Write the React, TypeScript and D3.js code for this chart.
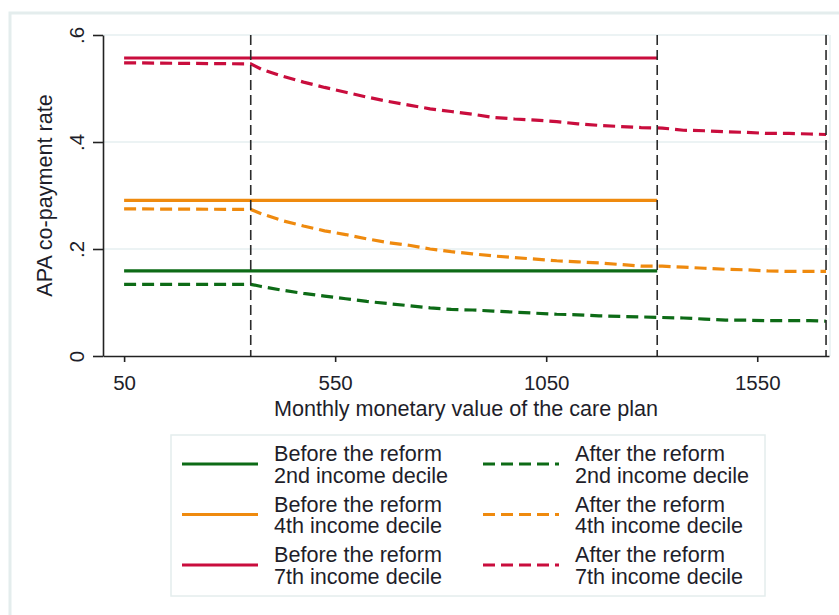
import * as d3 from "d3";
import React, { useEffect, useRef } from "react";

// monthly monetary value of the care plan (euros)
const planValues = [
  50, 350, 375, 425, 475, 525, 575, 625, 675, 725, 775, 825, 875, 925, 975,
  1025, 1075, 1125, 1175, 1225, 1275, 1325, 1375, 1425, 1475, 1525, 1575, 1625,
  1675, 1713,
];

// co-payment rate after the reform, by income decile
const after2nd = [
  0.134, 0.134, 0.13, 0.123, 0.117, 0.112, 0.107, 0.102, 0.098, 0.094, 0.09,
  0.087, 0.086, 0.084, 0.082, 0.08, 0.078, 0.077, 0.075, 0.074, 0.073, 0.072,
  0.071, 0.069, 0.067, 0.067, 0.066, 0.066, 0.066, 0.065,
];
const after4th = [
  0.275, 0.274, 0.266, 0.253, 0.243, 0.234, 0.227, 0.219, 0.212, 0.207, 0.2,
  0.195, 0.191, 0.187, 0.184, 0.181, 0.178, 0.176, 0.174, 0.171, 0.168, 0.168,
  0.166, 0.164, 0.162, 0.161, 0.159, 0.158, 0.158, 0.158,
];
const after7th = [
  0.548, 0.546, 0.536, 0.523, 0.512, 0.502, 0.493, 0.484, 0.476, 0.469, 0.462,
  0.457, 0.452, 0.446, 0.443, 0.441, 0.438, 0.434, 0.431, 0.429, 0.427, 0.426,
  0.422, 0.421, 0.419, 0.418, 0.416, 0.416, 0.415, 0.414,
];

// co-payment rate before the reform (flat up to the old ceiling)
const beforeRates = [0.159, 0.291, 0.557];
const beforeRange = [50, 1313];

const deciles = ["2nd", "4th", "7th"];
const thresholds = [350, 1313, 1713];
const xTicks = [50, 550, 1050, 1550];
const yTicks = [0, 0.2, 0.4, 0.6];
const yTickLabels = ["0", ".2", ".4", ".6"];

const COLORS = ["#0d6b16", "#ef8a0e", "#c90d3d"];
const FONT = "'Liberation Sans', Arial, sans-serif";
const W = 839;
const H = 615;

const App: React.FC = () => {
  const svgRef = useRef<SVGSVGElement>(null);

  useEffect(() => {
    document.body.style.margin = "0";
    const svg = d3.select(svgRef.current);
    svg.selectAll("*").remove();

    // graph region frame (cut off on the right and bottom)
    svg
      .append("rect")
      .attr("x", 10)
      .attr("y", 13)
      .attr("width", W)
      .attr("height", H)
      .attr("fill", "none")
      .attr("stroke", "#e4eded")
      .attr("stroke-width", 3);

    const x = d3.scaleLinear().domain([0, 1720]).range([103, 829]);
    const y = d3.scaleLinear().domain([0, 0.6]).range([356, 35]);

    // grid
    svg
      .append("g")
      .selectAll("line")
      .data(yTicks.filter((d) => d > 0))
      .join("line")
      .attr("x1", x(0))
      .attr("x2", x(1720))
      .attr("y1", (d) => y(d))
      .attr("y2", (d) => y(d))
      .attr("stroke", "#e6eff0")
      .attr("stroke-width", 1.5);
    svg
      .append("line")
      .attr("x1", x(1720) + 1)
      .attr("x2", x(1720) + 1)
      .attr("y1", y(0.6))
      .attr("y2", y(0))
      .attr("stroke", "#e6eff0")
      .attr("stroke-width", 1.5);

    const line = d3
      .line<[number, number]>()
      .x((d) => x(d[0]))
      .y((d) => y(d[1]));

    // before the reform
    beforeRates.forEach((rate, i) => {
      svg
        .append("path")
        .attr("d", line(beforeRange.map((v) => [v, rate] as [number, number])))
        .attr("fill", "none")
        .attr("stroke", COLORS[i])
        .attr("stroke-width", 3.2);
    });

    // after the reform
    [after2nd, after4th, after7th].forEach((series, i) => {
      svg
        .append("path")
        .attr("d", line(planValues.map((v, j) => [v, series[j]] as [number, number])))
        .attr("fill", "none")
        .attr("stroke", COLORS[i])
        .attr("stroke-width", 3.2)
        .attr("stroke-dasharray", "12,6");
    });

    // thresholds
    svg
      .append("g")
      .selectAll("line")
      .data(thresholds)
      .join("line")
      .attr("x1", (d) => x(d))
      .attr("x2", (d) => x(d))
      .attr("y1", y(0.6))
      .attr("y2", y(0))
      .attr("stroke", "#2b2b2b")
      .attr("stroke-width", 1.6)
      .attr("stroke-dasharray", "10,5");

    // axes
    const xAxis = svg
      .append("g")
      .attr("transform", `translate(0,${y(0)})`)
      .call(
        d3
          .axisBottom(x)
          .tickValues(xTicks)
          .tickSize(6)
          .tickSizeOuter(0)
          .tickFormat(d3.format("d"))
      )
      .attr("font-size", 20.5)
      .attr("font-family", FONT);
    xAxis.select(".domain").attr("stroke", "#222").attr("stroke-width", 1.6);
    xAxis.selectAll("line").attr("stroke", "#222").attr("stroke-width", 1.6);
    xAxis.selectAll("text").attr("y", 34).attr("dy", 0).attr("fill", "#1e1e2a");

    const yAxis = svg
      .append("g")
      .attr("transform", `translate(${x(0)},0)`)
      .call(
        d3
          .axisLeft(y)
          .tickValues(yTicks)
          .tickSize(10)
          .tickSizeOuter(0)
          .tickFormat((_, i) => yTickLabels[i])
      )
      .attr("font-size", 20.5)
      .attr("font-family", FONT);
    yAxis.select(".domain").attr("stroke", "#222").attr("stroke-width", 1.6);
    yAxis.selectAll("line").attr("stroke", "#222").attr("stroke-width", 1.6);
    yAxis
      .selectAll("text")
      .attr("transform", "rotate(-90)")
      .attr("x", 0)
      .attr("y", -19)
      .attr("dy", 0)
      .attr("text-anchor", "middle")
      .attr("fill", "#1e1e2a");

    // axis titles
    svg
      .append("text")
      .attr("x", (x(0) + x(1720)) / 2)
      .attr("y", 416)
      .attr("text-anchor", "middle")
      .attr("font-size", 21.6)
      .attr("font-family", FONT)
      .attr("fill", "#1e1e2a")
      .text("Monthly monetary value of the care plan");
    svg
      .append("text")
      .attr("transform", `translate(52,${(y(0) + y(0.6)) / 2}) rotate(-90)`)
      .attr("text-anchor", "middle")
      .attr("font-size", 21.6)
      .attr("font-family", FONT)
      .attr("fill", "#1e1e2a")
      .text("APA co-payment rate");

    // legend
    const legend = svg.append("g").attr("font-family", FONT).attr("font-size", 21.6);
    legend
      .append("rect")
      .attr("x", 171)
      .attr("y", 435)
      .attr("width", 594)
      .attr("height", 161)
      .attr("fill", "#fff")
      .attr("stroke", "#e4eded")
      .attr("stroke-width", 1.5);

    deciles.forEach((dec, i) => {
      const cy = 464 + i * 50.5;
      [
        { x0: 182, tx: 274, label: "Before the reform", dash: null },
        { x0: 483, tx: 575, label: "After the reform", dash: "12,6" },
      ].forEach((col) => {
        legend
          .append("line")
          .attr("x1", col.x0)
          .attr("x2", col.x0 + 76)
          .attr("y1", cy)
          .attr("y2", cy)
          .attr("stroke", COLORS[i])
          .attr("stroke-width", 3.2)
          .attr("stroke-dasharray", col.dash);
        const t = legend.append("text").attr("fill", "#1e1e2a");
        t.append("tspan").attr("x", col.tx).attr("y", cy - 3).text(col.label);
        t.append("tspan")
          .attr("x", col.tx)
          .attr("y", cy + 18.5)
          .text(`${dec} income decile`);
      });
    });
  }, []);

  return <svg ref={svgRef} width={W} height={H} style={{ display: "block", background: "#fff" }} />;
};

export default App;
